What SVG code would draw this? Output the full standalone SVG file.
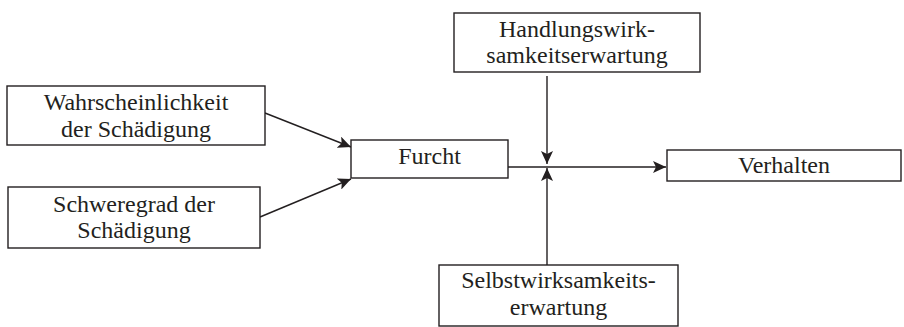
<svg xmlns="http://www.w3.org/2000/svg" width="904" height="327" viewBox="0 0 904 327">
<style>
.box{fill:#fff;stroke:#231f20;stroke-width:1.4}
.t{font-family:"Liberation Serif","Times New Roman",serif;font-size:24px;fill:#231f20;text-anchor:middle}
.c{stroke:#231f20;stroke-width:1.4;fill:none}
</style>
<defs>
<marker id="ah" markerWidth="14" markerHeight="12" refX="13" refY="6" orient="auto" markerUnits="userSpaceOnUse">
<path d="M0,0 L13,6 L0,12 L3,6 Z" fill="#231f20"/>
</marker>
</defs>
<rect width="904" height="327" fill="#fff"/>
<g id="connectors">
<line class="c" x1="265" y1="113" x2="351" y2="147" marker-end="url(#ah)"/>
<line class="c" x1="260" y1="217" x2="351" y2="179" marker-end="url(#ah)"/>
<line class="c" x1="508" y1="167" x2="666" y2="167" marker-end="url(#ah)"/>
<line class="c" x1="547" y1="76" x2="547" y2="164" marker-end="url(#ah)"/>
<line class="c" x1="547" y1="265" x2="547" y2="168" marker-end="url(#ah)"/>
</g>
<g id="n1">
<rect class="box" x="7" y="86" width="258" height="59"/>
<text class="t" x="136" y="110">Wahrscheinlichkeit</text>
<text class="t" x="136" y="137">der Schädigung</text>
</g>
<g id="n2">
<rect class="box" x="8" y="187" width="252" height="61"/>
<text class="t" x="134" y="212">Schweregrad der</text>
<text class="t" x="134" y="238">Schädigung</text>
</g>
<g id="n3">
<rect class="box" x="351" y="140" width="157" height="38"/>
<text class="t" x="429.5" y="164">Furcht</text>
</g>
<g id="n4">
<rect class="box" x="454" y="13" width="246" height="59"/>
<text class="t" x="577" y="37">Handlungswirk-</text>
<text class="t" x="577" y="63">samkeitserwartung</text>
</g>
<g id="n5">
<rect class="box" x="667" y="150" width="234" height="31"/>
<text class="t" x="784" y="173">Verhalten</text>
</g>
<g id="n6">
<rect class="box" x="439" y="265" width="239" height="61"/>
<text class="t" x="558.5" y="288">Selbstwirksamkeits-</text>
<text class="t" x="558.5" y="315">erwartung</text>
</g>
</svg>
